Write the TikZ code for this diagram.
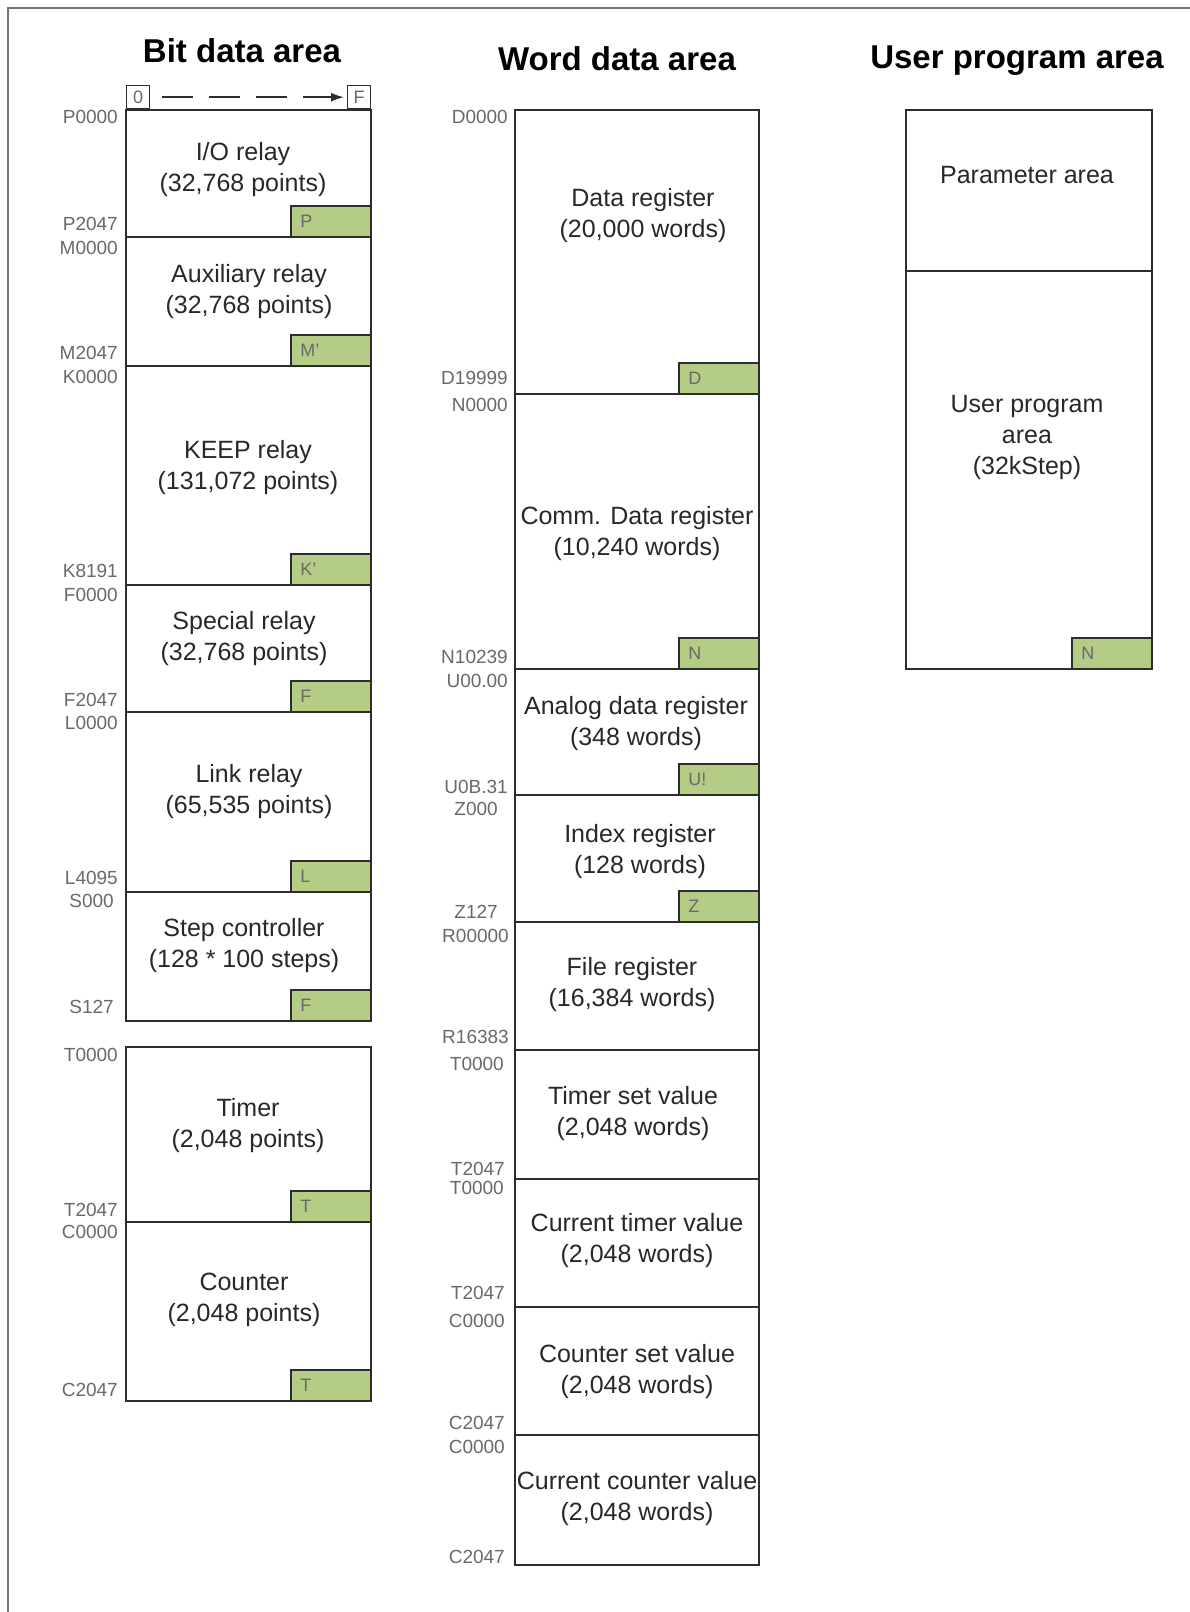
\documentclass[tikz,border=0pt]{standalone}
\usepackage{fontspec}
\setmainfont{Liberation Sans}
\usetikzlibrary{arrows.meta}
\definecolor{tagGreen}{RGB}{181,204,135}
\definecolor{lineC}{RGB}{45,45,45}
\definecolor{addrC}{RGB}{105,105,105}
\definecolor{txtC}{RGB}{40,40,40}
\definecolor{frameC}{RGB}{115,115,115}
\tikzset{
  area/.style={draw=lineC, line width=1.8pt, inner sep=0pt, anchor=north west},
  tagbox/.style={draw=lineC, line width=1.6pt, fill=tagGreen, minimum width=80pt, minimum height=31pt, anchor=south east, inner sep=0pt},
  tagtxt/.style={font=\fontsize{18}{20}\selectfont, text=addrC, anchor=west, inner sep=0pt},
  body/.style={font=\fontsize{25}{31}\selectfont, text=txtC, align=center, inner sep=0pt, yshift=-2.5pt},
  addr/.style={font=\fontsize{19}{20}\selectfont, text=addrC, anchor=east, inner sep=0pt},
  titletxt/.style={font=\fontsize{33}{36}\bfseries\selectfont, inner sep=0pt},
  hdrbox/.style={draw=lineC, line width=1.4pt, minimum width=23pt, minimum height=23pt, anchor=north west, inner sep=0pt, font=\fontsize{18}{20}\selectfont, text=addrC},
}
\newcommand{\mregion}[5]{\node[area, minimum width=#4pt, minimum height=#5pt] (#1) at (#2,#3) {};}
\newcommand{\mtag}[3]{\node[tagbox] (#1) at (#2.south east) {};
  \node[tagtxt] (#1t) at ([xshift=10pt]#1.west) {#3};}
\begin{document}
\begin{tikzpicture}[x=1pt,y=-1pt]
\useasboundingbox (0,0) rectangle (1190,1612);
\fill[white] (0,0) rectangle (1190,1612);
\draw[frameC, line width=2.5pt] (8,1612) -- (8,8) -- (1190,8);

% titles
\node[titletxt] (t1) at (242,51) {Bit data area};
\node[titletxt] (t2) at (617,59) {Word data area};
\node[titletxt] (t3) at (1017,61) {User program area};

% header of bit column
\node[hdrbox] (h0) at (126,85) {0};
\node[hdrbox] (hF) at (347,85) {F};
\draw[lineC, line width=1.6pt, dash pattern=on 31pt off 16pt, -{Latex[length=13pt,width=9pt]}] ([xshift=12pt]h0.east) -- ([xshift=-3pt]hF.west);

% bit column
\mregion{io}{125}{109}{245}{127}
\mregion{aux}{125}{236}{245}{129}
\mregion{keep}{125}{365}{245}{219}
\mregion{spec}{125}{584}{245}{127}
\mregion{link}{125}{711}{245}{180}
\mregion{stepc}{125}{891}{245}{129}
\mregion{tim}{125}{1046}{245}{175}
\mregion{cnt}{125}{1221}{245}{179}
\mtag{gio}{io}{P}
\mtag{gaux}{aux}{M'}
\mtag{gkeep}{keep}{K'}
\mtag{gspec}{spec}{F}
\mtag{glink}{link}{L}
\mtag{gstep}{stepc}{F}
\mtag{gtim}{tim}{T}
\mtag{gcnt}{cnt}{T}

\node[body] (bio) at (243,167) {I/O relay\\(32,768 points)};
\node[body] (baux) at (249,289) {Auxiliary relay\\(32,768 points)};
\node[body] (bkeep) at (248,465) {KEEP relay\\(131,072 points)};
\node[body] (bspec) at (244,636) {Special relay\\(32,768 points)};
\node[body] (blink) at (249,789) {Link relay\\(65,535 points)};
\node[body] (bstep) at (244,943) {Step controller\\(128 * 100 steps)};
\node[body] (btim) at (248,1123) {Timer\\(2,048 points)};
\node[body] (bcnt) at (244,1297) {Counter\\(2,048 points)};

\node[addr] (a1) at (118,117) {P0000};
\node[addr] (a2) at (118,224) {P2047};
\node[addr] (a3) at (118,248) {M0000};
\node[addr] (a4) at (118,353) {M2047};
\node[addr] (a5) at (118,377) {K0000};
\node[addr] (a6) at (118,571) {K8191};
\node[addr] (a7) at (118,595) {F0000};
\node[addr] (a8) at (118,700) {F2047};
\node[addr] (a9) at (118,723) {L0000};
\node[addr] (a10) at (118,878) {L4095};
\node[addr] (a11) at (114,901) {S000};
\node[addr] (a12) at (114,1007) {S127};
\node[addr] (a13) at (118,1055) {T0000};
\node[addr] (a14) at (118,1210) {T2047};
\node[addr] (a15) at (118,1232) {C0000};
\node[addr] (a16) at (118,1390) {C2047};

% word column
\mregion{dreg}{514}{109}{244}{284}
\mregion{comm}{514}{393}{244}{275}
\mregion{anlg}{514}{668}{244}{126}
\mregion{indx}{514}{794}{244}{127}
\mregion{filer}{514}{921}{244}{128}
\mregion{tset}{514}{1049}{244}{129}
\mregion{tcur}{514}{1178}{244}{128}
\mregion{cset}{514}{1306}{244}{128}
\mregion{ccur}{514}{1434}{244}{130}
\mtag{gd}{dreg}{D}
\mtag{gn}{comm}{N}
\mtag{gu}{anlg}{U!}
\mtag{gz}{indx}{Z}

\node[body] (wd) at (643,213) {Data register\\(20,000 words)};
\node[body] (wc) at (637,531) {Comm. Data register\\(10,240 words)};
\node[body] (wa) at (636,721) {Analog data register\\(348 words)};
\node[body] (wi) at (640,849) {Index register\\(128 words)};
\node[body] (wf) at (632,982) {File register\\(16,384 words)};
\node[body] (wts) at (633,1111) {Timer set value\\(2,048 words)};
\node[body] (wtc) at (637,1238) {Current timer value\\(2,048 words)};
\node[body] (wcs) at (637,1369) {Counter set value\\(2,048 words)};
\node[body] (wcc) at (637,1496) {Current counter value\\(2,048 words)};

\node[addr] (b1) at (508,117) {D0000};
\node[addr] (b2) at (508,378) {D19999};
\node[addr] (b3) at (508,405) {N0000};
\node[addr] (b4) at (508,657) {N10239};
\node[addr] (b5) at (508,681) {U00.00};
\node[addr] (b6) at (508,787) {U0B.31};
\node[addr] (b7) at (498,809) {Z000};
\node[addr] (b8) at (498,912) {Z127};
\node[addr] (b9) at (509,936) {R00000};
\node[addr] (b10) at (509,1037) {R16383};
\node[addr] (b11) at (504,1064) {T0000};
\node[addr] (b12) at (505,1169) {T2047};
\node[addr] (b13) at (504,1188) {T0000};
\node[addr] (b14) at (505,1293) {T2047};
\node[addr] (b15) at (505,1321) {C0000};
\node[addr] (b16) at (505,1423) {C2047};
\node[addr] (b17) at (505,1447) {C0000};
\node[addr] (b18) at (505,1557) {C2047};

% user program column
\mregion{param}{905}{109}{246}{161}
\mregion{uprog}{905}{270}{246}{398}
\mtag{gup}{uprog}{N}
\node[body] (up1) at (1027,173) {Parameter area};
\node[body] (up2) at (1027,435) {User program\\area\\(32kStep)};
\end{tikzpicture}
\end{document}
